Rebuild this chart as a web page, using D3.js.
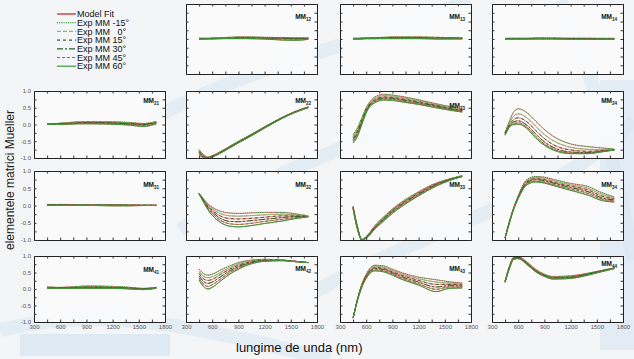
<!DOCTYPE html>
<html><head><meta charset="utf-8">
<script src="https://cdn.jsdelivr.net/npm/d3@7"></script>
<style>html,body{margin:0;padding:0;background:#f3f5f7;}svg{display:block;}</style>
</head><body>
<svg id="c" width="634" height="359"></svg>
<script>
// ---- data ----
const wavelengths = [450,500,550,600,700,800,900,1000,1200,1400,1550,1700];
const angles = ["-15°","0°","15°","30°","45°","60°"];
const legendLabels = ["Model Fit","Exp MM -15°","Exp MM   0°","Exp MM 15°","Exp MM 30°","Exp MM 45°","Exp MM 60°"];
const xTicks = [300,600,900,1200,1500,1800];
const yTicks = [-1.0,-0.5,0.0,0.5,1.0];
const elementIds = ["12","13","14","21","22","23","24","31","32","33","34","41","42","43","44"];

const mm12 = [
 [0.02,0.02,0.02,0.03,0.04,0.05,0.06,0.06,0.05,0.04,0.03,0.03],
 [0.02,0.02,0.02,0.02,0.03,0.04,0.05,0.05,0.04,0.04,0.03,0.02],
 [0.01,0.01,0.01,0.02,0.02,0.03,0.04,0.04,0.03,0.03,0.02,0.02],
 [0.01,0.01,0.01,0.01,0.02,0.02,0.03,0.03,0.02,0.02,0.01,0.01],
 [0.0,0.0,0.01,0.01,0.01,0.02,0.02,0.02,0.01,0.0,-0.01,0.0],
 [0.0,0.0,0.0,0.0,0.01,0.01,0.01,0.01,0.0,-0.03,-0.04,-0.01]];
const mm13 = [
 [0.02,0.02,0.03,0.03,0.04,0.05,0.06,0.06,0.06,0.05,0.04,0.03],
 [0.02,0.02,0.02,0.03,0.03,0.04,0.05,0.05,0.05,0.04,0.03,0.03],
 [0.01,0.01,0.02,0.02,0.03,0.03,0.04,0.04,0.04,0.03,0.03,0.02],
 [0.01,0.01,0.01,0.02,0.02,0.02,0.03,0.03,0.03,0.02,0.02,0.02],
 [0.0,0.0,0.01,0.01,0.01,0.02,0.02,0.02,0.02,0.01,0.01,0.01],
 [0.0,0.0,0.0,0.01,0.01,0.01,0.01,0.01,0.01,0.0,0.0,0.0]];
const mm14 = [
 [0.02,0.02,0.02,0.02,0.02,0.03,0.03,0.03,0.02,0.02,0.02,0.02],
 [0.01,0.02,0.02,0.02,0.02,0.02,0.02,0.02,0.02,0.02,0.01,0.01],
 [0.01,0.01,0.01,0.01,0.01,0.02,0.02,0.02,0.01,0.01,0.01,0.01],
 [0.01,0.01,0.01,0.01,0.01,0.01,0.01,0.01,0.01,0.01,0.0,0.0],
 [0.0,0.0,0.0,0.0,0.0,0.01,0.01,0.01,0.0,0.0,0.0,0.0],
 [0.0,0.0,0.0,0.0,0.0,0.0,0.0,0.0,-0.01,-0.01,-0.01,0.0]];
const mm21 = [
 [0.02,0.02,0.03,0.04,0.06,0.08,0.09,0.09,0.08,0.06,0.03,0.09],
 [0.02,0.02,0.02,0.03,0.05,0.07,0.08,0.08,0.07,0.05,0.02,0.08],
 [0.01,0.01,0.02,0.02,0.04,0.05,0.06,0.06,0.05,0.03,0.01,0.06],
 [0.01,0.01,0.01,0.02,0.03,0.04,0.05,0.05,0.04,0.02,0.0,0.05],
 [0.0,0.0,0.01,0.01,0.02,0.03,0.03,0.03,0.02,0.0,-0.03,0.03],
 [0.0,0.0,0.0,0.0,0.01,0.02,0.02,0.02,0.01,-0.02,-0.06,0.02]];
const mm22 = [
 [-0.75,-0.9,-0.97,-0.93,-0.8,-0.65,-0.5,-0.36,-0.07,0.21,0.39,0.53],
 [-0.78,-0.92,-0.98,-0.94,-0.81,-0.66,-0.51,-0.37,-0.07,0.21,0.38,0.52],
 [-0.8,-0.94,-0.99,-0.95,-0.82,-0.67,-0.52,-0.38,-0.08,0.2,0.38,0.52],
 [-0.83,-0.96,-1.0,-0.96,-0.83,-0.68,-0.53,-0.39,-0.09,0.2,0.37,0.51],
 [-0.86,-0.97,-1.0,-0.96,-0.84,-0.69,-0.54,-0.4,-0.1,0.19,0.37,0.51],
 [-0.9,-0.99,-1.0,-0.97,-0.85,-0.7,-0.55,-0.41,-0.11,0.18,0.36,0.5]];
const mm23 = [
 [-0.3,-0.1,0.2,0.5,0.82,0.9,0.88,0.84,0.74,0.62,0.54,0.46],
 [-0.35,-0.15,0.16,0.47,0.78,0.86,0.85,0.81,0.71,0.6,0.52,0.44],
 [-0.4,-0.2,0.12,0.44,0.74,0.82,0.81,0.77,0.68,0.57,0.49,0.42],
 [-0.45,-0.25,0.08,0.41,0.71,0.79,0.78,0.74,0.65,0.55,0.47,0.4],
 [-0.5,-0.3,0.04,0.38,0.68,0.76,0.75,0.71,0.62,0.52,0.45,0.38],
 [-0.55,-0.35,0.0,0.35,0.65,0.73,0.72,0.68,0.6,0.5,0.43,0.37]];
const mm24 = [
 [-0.25,0.1,0.38,0.47,0.35,0.1,-0.15,-0.35,-0.58,-0.66,-0.7,-0.73],
 [-0.25,0.05,0.25,0.32,0.2,-0.05,-0.3,-0.48,-0.68,-0.74,-0.75,-0.75],
 [-0.25,0.0,0.15,0.2,0.08,-0.18,-0.42,-0.6,-0.76,-0.8,-0.78,-0.76],
 [-0.27,-0.03,0.08,0.11,-0.02,-0.28,-0.52,-0.68,-0.82,-0.84,-0.8,-0.76],
 [-0.3,-0.06,0.03,0.05,-0.08,-0.35,-0.58,-0.73,-0.85,-0.86,-0.81,-0.76],
 [-0.32,-0.08,0.0,0.01,-0.12,-0.4,-0.62,-0.76,-0.87,-0.87,-0.82,-0.76]];
const mm31 = [
 [0.03,0.03,0.03,0.03,0.03,0.02,0.02,0.02,0.02,0.02,0.01,0.01],
 [0.03,0.02,0.02,0.02,0.02,0.02,0.02,0.02,0.02,0.01,0.01,0.01],
 [0.02,0.02,0.02,0.02,0.02,0.01,0.01,0.01,0.01,0.01,0.01,0.01],
 [0.02,0.01,0.01,0.01,0.01,0.01,0.01,0.01,0.01,0.0,0.0,0.0],
 [0.01,0.01,0.01,0.01,0.0,0.0,0.0,0.0,0.0,0.0,0.0,0.0],
 [0.01,0.0,0.0,0.0,0.0,0.0,0.0,0.0,-0.01,-0.01,0.0,0.0]];
const mm32 = [
 [0.35,0.2,0.05,-0.05,-0.17,-0.22,-0.23,-0.22,-0.2,-0.2,-0.24,-0.3],
 [0.35,0.18,0.02,-0.09,-0.24,-0.3,-0.31,-0.3,-0.27,-0.25,-0.27,-0.31],
 [0.34,0.16,-0.02,-0.14,-0.31,-0.38,-0.39,-0.38,-0.34,-0.3,-0.3,-0.31],
 [0.34,0.14,-0.05,-0.18,-0.38,-0.46,-0.47,-0.45,-0.4,-0.35,-0.32,-0.32],
 [0.33,0.12,-0.09,-0.23,-0.44,-0.53,-0.55,-0.53,-0.46,-0.4,-0.35,-0.32],
 [0.33,0.1,-0.12,-0.28,-0.5,-0.6,-0.62,-0.6,-0.52,-0.45,-0.38,-0.33]];
const mm33 = [
 [-0.02,-0.6,-0.98,-0.9,-0.58,-0.33,-0.1,0.09,0.4,0.65,0.77,0.87],
 [-0.04,-0.62,-0.99,-0.91,-0.6,-0.35,-0.12,0.07,0.38,0.64,0.76,0.86],
 [-0.05,-0.64,-1.0,-0.92,-0.62,-0.37,-0.14,0.05,0.36,0.62,0.75,0.85],
 [-0.06,-0.66,-1.0,-0.93,-0.64,-0.4,-0.17,0.02,0.33,0.6,0.74,0.85],
 [-0.08,-0.68,-1.0,-0.94,-0.66,-0.42,-0.2,-0.01,0.3,0.58,0.73,0.84],
 [-0.1,-0.7,-1.0,-0.95,-0.68,-0.45,-0.23,-0.04,0.28,0.56,0.72,0.84]];
const mm34 = [
 [-0.94,-0.45,-0.05,0.28,0.75,0.84,0.82,0.76,0.64,0.55,0.38,0.25],
 [-0.94,-0.46,-0.06,0.26,0.72,0.81,0.79,0.72,0.6,0.5,0.33,0.22],
 [-0.94,-0.47,-0.07,0.25,0.69,0.78,0.75,0.68,0.56,0.45,0.28,0.19],
 [-0.94,-0.48,-0.08,0.23,0.66,0.75,0.72,0.65,0.52,0.4,0.23,0.16],
 [-0.94,-0.49,-0.09,0.22,0.63,0.71,0.68,0.61,0.48,0.35,0.19,0.13],
 [-0.94,-0.5,-0.1,0.2,0.6,0.68,0.65,0.58,0.44,0.3,0.15,0.1]];
const mm41 = [
 [0.06,0.06,0.05,0.05,0.06,0.08,0.09,0.09,0.08,0.05,0.02,0.05],
 [0.05,0.05,0.04,0.04,0.05,0.07,0.08,0.08,0.07,0.04,0.01,0.04],
 [0.04,0.04,0.04,0.04,0.04,0.05,0.06,0.06,0.05,0.03,0.01,0.04],
 [0.03,0.03,0.03,0.03,0.03,0.04,0.05,0.05,0.04,0.02,0.0,0.03],
 [0.03,0.03,0.02,0.02,0.02,0.03,0.03,0.03,0.03,0.01,-0.01,0.03],
 [0.02,0.02,0.02,0.02,0.02,0.02,0.02,0.02,0.02,0.0,-0.02,0.02]];
const mm42 = [
 [0.6,0.47,0.42,0.45,0.58,0.7,0.8,0.86,0.9,0.88,0.84,0.8],
 [0.53,0.39,0.34,0.37,0.51,0.65,0.76,0.83,0.89,0.88,0.84,0.8],
 [0.47,0.31,0.26,0.29,0.45,0.6,0.72,0.8,0.88,0.87,0.84,0.8],
 [0.4,0.23,0.17,0.21,0.38,0.55,0.68,0.77,0.87,0.87,0.83,0.8],
 [0.33,0.15,0.08,0.13,0.31,0.5,0.64,0.75,0.85,0.86,0.83,0.8],
 [0.27,0.08,0.0,0.05,0.25,0.45,0.6,0.72,0.84,0.86,0.83,0.8]];
const mm43 = [
 [-0.88,-0.3,0.15,0.45,0.72,0.7,0.6,0.5,0.36,0.28,0.22,0.18],
 [-0.88,-0.31,0.13,0.42,0.69,0.66,0.56,0.46,0.31,0.21,0.18,0.15],
 [-0.88,-0.32,0.11,0.4,0.65,0.62,0.52,0.42,0.26,0.14,0.14,0.12],
 [-0.88,-0.33,0.09,0.37,0.62,0.59,0.49,0.38,0.21,0.06,0.1,0.09],
 [-0.88,-0.34,0.07,0.35,0.58,0.55,0.45,0.34,0.16,-0.01,0.06,0.06],
 [-0.88,-0.35,0.05,0.32,0.55,0.52,0.42,0.3,0.12,-0.08,0.02,0.03]];
const mm44 = [
 [0.25,0.7,0.97,0.98,0.82,0.6,0.45,0.38,0.4,0.48,0.56,0.64],
 [0.24,0.68,0.96,0.97,0.8,0.58,0.44,0.36,0.38,0.47,0.55,0.64],
 [0.23,0.67,0.94,0.96,0.79,0.56,0.42,0.35,0.37,0.46,0.55,0.63],
 [0.22,0.65,0.93,0.95,0.77,0.55,0.41,0.33,0.35,0.45,0.54,0.63],
 [0.21,0.64,0.91,0.93,0.76,0.53,0.39,0.32,0.34,0.43,0.53,0.62],
 [0.2,0.62,0.9,0.92,0.74,0.52,0.38,0.3,0.32,0.42,0.52,0.62]];

const panelData = {"12":mm12,"13":mm13,"14":mm14,"21":mm21,"22":mm22,"23":mm23,"24":mm24,
  "31":mm31,"32":mm32,"33":mm33,"34":mm34,"41":mm41,"42":mm42,"43":mm43,"44":mm44};

// ---- layout / style ----
const colX = [34,186,340,492], panelW = 131;
const rowY = [4,91,171,256], rowH = [70,67,69,66];
const labelPos = {"12":[0,15],"13":[0,15],"14":[0,15],"21":[0,12],"22":[0,12],"23":[0,17],"24":[0,12],
  "31":[0,16],"32":[0,16],"33":[0,16],"34":[0,16],"41":[0,16],"42":[0,15],"43":[0,15],"44":[0,10]};
const modelColor = "#cc1a1a";
const expStyles = [
  {c:"#2f8f2f", d:"1,1.2"},
  {c:"#6ccc6c", d:"4,2"},
  {c:"#4a5a2a", d:"3,3"},
  {c:"#2e5e2e", d:"6,2,2,2"},
  {c:"#6f7a3a", d:"3,2"},
  {c:"#3a9a3a", d:null}
];

const svg = d3.select("#c");
// background decoration (faint watermark swooshes)
const bg = svg.append("g");
bg.append("rect").attr("width",634).attr("height",359).attr("fill","#f3f5f7");
const swoosh = [
  "M0,330 C120,300 240,340 330,359",
  "M150,120 C260,60 380,40 470,0",
  "M300,300 C420,230 560,200 634,120",
  "M560,0 C600,80 620,200 634,260",
  "M180,230 C260,180 330,150 420,120"];
bg.selectAll("path.sw").data(swoosh).join("path").attr("class","sw")
  .attr("d",d=>d).attr("fill","none").attr("stroke","#c6dced").attr("stroke-width",14).attr("opacity",0.3);
bg.append("rect").attr("x",20).attr("y",334).attr("width",150).attr("height",22).attr("fill","#cfe3f2").attr("opacity",0.6);
bg.append("rect").attr("x",600).attr("y",80).attr("width",34).attr("height",270).attr("fill","#d0e3f1").attr("opacity",0.45);

const x = d3.scaleLinear().domain([300,1800]);

elementIds.forEach((id)=>{
  const r = +id[0]-1, c = +id[1]-1;
  const left = colX[c], top = rowY[r], h = rowH[r];
  const xs = x.copy().range([0,panelW]);
  const ys = d3.scaleLinear().domain([-1,1]).range([h,0]);
  const g = svg.append("g").attr("transform",`translate(${left},${top})`);
  g.append("rect").attr("width",panelW).attr("height",h).attr("fill","#fbfbfb").attr("opacity",0.88);
  const cid = "clip"+id;
  g.append("clipPath").attr("id",cid).append("rect").attr("width",panelW).attr("height",h);
  const line = d3.line().x((d,i)=>xs(wavelengths[i])).y(d=>ys(d)).curve(d3.curveMonotoneX);
  const cg = g.append("g").attr("clip-path",`url(#${cid})`);
  const series = panelData[id];
  // model fit (red) under experimental
  series.forEach(s=>{
    cg.append("path").attr("d",line(s)).attr("fill","none").attr("stroke",modelColor).attr("stroke-width",0.8).attr("opacity",0.7);
  });
  series.forEach((s,k)=>{
    const st = expStyles[k];
    const p = cg.append("path").attr("d",line(s)).attr("fill","none").attr("stroke",st.c).attr("stroke-width",1);
    if(st.d) p.attr("stroke-dasharray",st.d);
  });
  // axes with inward ticks
  const xMinor = d3.range(300,1801,150);
  const yMinor = d3.range(-1,1.001,0.25);
  const axB = d3.axisBottom(xs).tickValues(xMinor).tickSize(-2.5).tickFormat(d=> (r===3 && xTicks.includes(d)) ? d : "");
  const axT = d3.axisTop(xs).tickValues(xMinor).tickSize(-2.5).tickFormat("");
  const axL = d3.axisLeft(ys).tickValues(yMinor).tickSize(-2.5).tickFormat(d=>{
    if(c!==0) return "";
    const m = yTicks.find(t=>Math.abs(t-d)<1e-6);
    return m===undefined ? "" : d3.format(".1f")(m).replace("−","-");
  });
  const axR = d3.axisRight(ys).tickValues(yMinor).tickSize(-2.5).tickFormat("");
  [[axB,`translate(0,${h})`],[axT,"translate(0,0)"],[axL,"translate(0,0)"],[axR,`translate(${panelW},0)`]].forEach(([ax,tr])=>{
    const a = g.append("g").attr("transform",tr).call(ax);
    a.select(".domain").attr("stroke","#222").attr("stroke-width",1);
    a.selectAll(".tick line").attr("stroke","#333");
    a.selectAll("text").attr("font-family","Arial, Liberation Sans, sans-serif").attr("font-size",6).attr("fill","#555");
  });
  // label
  const lp = labelPos[id];
  const t = g.append("text").attr("x",panelW-6+lp[0]).attr("y",lp[1]).attr("text-anchor","end")
    .attr("font-family","Arial, Liberation Sans, sans-serif").attr("font-weight","bold").attr("font-size",6.5).attr("fill","#111");
  t.append("tspan").text("MM");
  t.append("tspan").attr("dy",1.8).attr("font-size",4.5).text(id);
});

// legend
const lg = svg.append("g").attr("font-family","Arial, Liberation Sans, sans-serif").attr("font-size",9).attr("fill","#111");
legendLabels.forEach((lab,i)=>{
  const yy = 14 + i*8.7;
  const ln = lg.append("line").attr("x1",57).attr("x2",76).attr("y1",yy).attr("y2",yy).attr("stroke-width",1.2);
  if(i===0) ln.attr("stroke",modelColor);
  else { ln.attr("stroke",expStyles[i-1].c); if(expStyles[i-1].d) ln.attr("stroke-dasharray",expStyles[i-1].d); }
  lg.append("text").attr("x",77).attr("y",yy+3.2).text(lab).style("white-space","pre");
});

// axis titles
svg.append("text").attr("transform","translate(14,180) rotate(-90)").attr("text-anchor","middle")
  .attr("font-family","Arial, Liberation Sans, sans-serif").attr("font-size",12).attr("fill","#222").text("elementele matrici Mueller");
svg.append("text").attr("x",236).attr("y",352)
  .attr("font-family","Arial, Liberation Sans, sans-serif").attr("font-size",13).attr("fill","#111").text("lungime de unda (nm)");
</script>
</body></html>
